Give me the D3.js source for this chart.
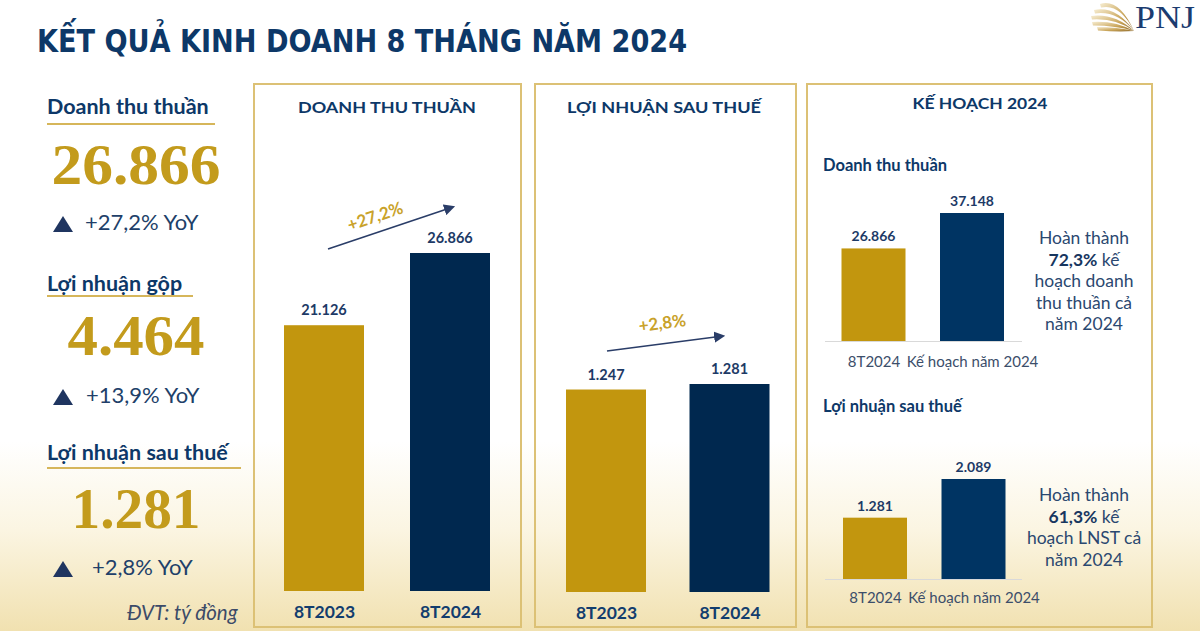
<!DOCTYPE html>
<html>
<head>
<meta charset="utf-8">
<script src="https://cdn.jsdelivr.net/npm/d3@7/dist/d3.min.js"></script>
<style>
  html, body { margin: 0; padding: 0; background: #fff; }
  svg { display: block; }
</style>
</head>
<body>
<svg id="chart" width="1200" height="631"></svg>
<script>
// ---------- DATA ----------
const titleText = "KẾT QUẢ KINH DOANH 8 THÁNG NĂM 2024";
const kpiLabels = ["Doanh thu thuần", "Lợi nhuận gộp", "Lợi nhuận sau thuế"];
const kpiValues = ["26.866", "4.464", "1.281"];
const kpiGrowth = ["+27,2% YoY", "+13,9% YoY", "+2,8% YoY"];
const unitNote = "ĐVT: tý đồng";

const yoyCategories = ["8T2023", "8T2024"];
const revenueValues = [21126, 26866];
const profitValues = [1247, 1281];
const revenueGrowth = "+27,2%";
const profitGrowth = "+2,8%";

const planCategories = ["8T2024", "Kế hoạch năm 2024"];
const planRevenueValues = [26866, 37148];
const planProfitValues = [1281, 2089];
const planRevenueNote = [["Hoàn thành"], ["72,3%", " kế"], ["hoạch doanh"], ["thu thuần cả"], ["năm 2024"]];
const planProfitNote = [["Hoàn thành"], ["61,3%", " kế"], ["hoạch LNST cả"], ["năm 2024"]];

const panelTitles = ["DOANH THU THUẦN", "LỢI NHUẬN SAU THUẾ", "KẾ HOẠCH 2024"];
const planSubTitles = ["Doanh thu thuần", "Lợi nhuận sau thuế"];

// ---------- STYLE ----------
const NAVY = "#0d3868";
const BAR_NAVY = "#00284f";
const BAR_NAVY2 = "#003463";
const GOLD = "#c2960e";
const GOLD_TXT = "#c39b1c";
const BORDER = "#dcc175";
const TEXT_BLUE = "#2b4870";
const fmt = v => d3.format(",")(v).replace(/,/g, ".");

const svg = d3.select("#chart");
const defs = svg.append("defs");

// background gradient
const bg = defs.append("linearGradient").attr("id", "bg").attr("x1", 0).attr("y1", 0).attr("x2", 0).attr("y2", 1);
bg.append("stop").attr("offset", "0%").attr("stop-color", "#ffffff");
bg.append("stop").attr("offset", "70%").attr("stop-color", "#ffffff");
bg.append("stop").attr("offset", "84%").attr("stop-color", "#fbf5e2");
bg.append("stop").attr("offset", "100%").attr("stop-color", "#f1e1b0");
svg.append("rect").attr("width", 1200).attr("height", 631).attr("fill", "url(#bg)");

// arrow marker
defs.append("marker").attr("id", "arr").attr("viewBox", "0 0 10 10")
  .attr("refX", 8).attr("refY", 5).attr("markerWidth", 7).attr("markerHeight", 7)
  .attr("orient", "auto")
  .append("path").attr("d", "M0,0 L10,5 L0,10 z").attr("fill", "#2a3d68");

// gold logo gradient
const lg = defs.append("linearGradient").attr("id", "lg").attr("x1", 0).attr("y1", 0).attr("x2", 1).attr("y2", 1);
lg.append("stop").attr("offset", "0%").attr("stop-color", "#f6ecd0");
lg.append("stop").attr("offset", "55%").attr("stop-color", "#c9a55a");
lg.append("stop").attr("offset", "100%").attr("stop-color", "#8a6526");

// ---------- TITLE ----------
svg.append("text").attr("x", 37).attr("y", 52)
  .attr("font-family", "'Liberation Sans Narrow','DejaVu Sans Condensed',Lato,sans-serif")
  .attr("font-weight", "bold").attr("font-size", 32).attr("fill", NAVY)
  .attr("textLength", 650).attr("lengthAdjust", "spacingAndGlyphs")
  .text(titleText);

// ---------- LOGO ----------
const logo = svg.append("g");
const strands = [[1100, 4], [1094, 10], [1091, 16], [1092, 22], [1097, 27]];
strands.forEach(([sx, sy], i) => {
  const ex = 1134, ey = 31;
  const cx = (sx + ex) / 2 + 2, cy = sy - 6 + i * 1.5;
  logo.append("path")
    .attr("d", `M${sx},${sy} Q${cx},${cy} ${ex},${ey} Q${cx + 1},${cy + 5} ${sx + 1},${sy + 3.5} Z`)
    .attr("fill", "url(#lg)");
});
svg.append("text").attr("x", 1135).attr("y", 28)
  .attr("font-family", "'Liberation Serif',serif").attr("font-size", 31)
  .attr("fill", "#1b3c70").attr("textLength", 60).attr("lengthAdjust", "spacingAndGlyphs")
  .text("PNJ");

// ---------- LEFT KPI COLUMN ----------
const kpiLayout = [
  { labelY: 114, lineY: 124, lineX2: 215, valueY: 184, valueW: 169, growY: 230, growX: 85 },
  { labelY: 291, lineY: 296, lineX2: 193, valueY: 355, valueW: 137, growY: 403, growX: 86 },
  { labelY: 460, lineY: 468, lineX2: 241, valueY: 528, valueW: 129, growY: 575, growX: 92 }
];
kpiLabels.forEach((lab, i) => {
  const L = kpiLayout[i];
  svg.append("text").attr("x", 47).attr("y", L.labelY)
    .attr("font-family", "Lato,'Open Sans',sans-serif").attr("font-weight", "bold")
    .attr("font-size", 21.5).attr("fill", NAVY).text(lab);
  svg.append("line").attr("x1", 47).attr("x2", L.lineX2).attr("y1", L.lineY).attr("y2", L.lineY)
    .attr("stroke", "#d6b65a").attr("stroke-width", 2);
  svg.append("text").attr("x", 136).attr("y", L.valueY).attr("text-anchor", "middle")
    .attr("font-family", "'Liberation Serif',serif").attr("font-weight", "bold")
    .attr("font-size", 56).attr("fill", GOLD_TXT)
    .attr("textLength", L.valueW).attr("lengthAdjust", "spacingAndGlyphs")
    .text(kpiValues[i]);
  const ty = L.growY;
  svg.append("path").attr("d", `M53,${ty + 2} L63,${ty - 14} L73,${ty + 2} Z`).attr("fill", "#1f3560");
  svg.append("text").attr("x", L.growX).attr("y", ty)
    .attr("font-family", "Lato,'Open Sans',sans-serif").attr("font-size", 22)
    .attr("fill", "#213f69").text(kpiGrowth[i]);
});
svg.append("text").attr("x", 127).attr("y", 620)
  .attr("font-family", "Lato,'Open Sans',sans-serif").attr("font-style", "italic")
  .attr("font-size", 20.5).attr("fill", "#3c4b68").text(unitNote);

// ---------- PANELS ----------
const panels = [
  { x: 254, y: 84, w: 267, h: 543 },
  { x: 535, y: 84, w: 261, h: 543 },
  { x: 807, y: 84, w: 345, h: 543 }
];
panels.forEach(p => {
  svg.append("rect").attr("x", p.x).attr("y", p.y).attr("width", p.w).attr("height", p.h)
    .attr("fill", "none").attr("stroke", BORDER).attr("stroke-width", 2);
});
const headerPos = [{ cx: 387, y: 113, w: 178 }, { cx: 664, y: 113, w: 194 }, { cx: 980, y: 109, w: 135 }];
panelTitles.forEach((t, i) => {
  svg.append("text").attr("x", headerPos[i].cx).attr("y", headerPos[i].y).attr("text-anchor", "middle")
    .attr("font-family", "Lato,'Open Sans',sans-serif").attr("font-weight", "bold")
    .attr("font-size", 16).attr("fill", NAVY)
    .attr("textLength", headerPos[i].w).attr("lengthAdjust", "spacingAndGlyphs").text(t);
});

// YoY bar chart helper
function yoyChart(values, xRange, yBase, yTop, catY) {
  const x = d3.scalePoint().domain(yoyCategories).range(xRange);
  const y = d3.scaleLinear().domain([0, d3.max(values)]).range([yBase, yTop]);
  const bw = 80;
  const g = svg.append("g");
  g.selectAll("rect").data(values).join("rect")
    .attr("x", (d, i) => x(yoyCategories[i]) - bw / 2)
    .attr("y", d => y(d)).attr("width", bw).attr("height", d => y(0) - y(d))
    .attr("fill", (d, i) => i === 0 ? GOLD : BAR_NAVY);
  g.selectAll("text.v").data(values).join("text").attr("class", "v")
    .attr("x", (d, i) => x(yoyCategories[i])).attr("y", d => y(d) - 10)
    .attr("text-anchor", "middle").attr("font-family", "Lato,'Open Sans',sans-serif")
    .attr("font-weight", "bold").attr("font-size", 14.5).attr("fill", "#1d3a66")
    .text(d => fmt(d));
  const xAxis = d3.axisBottom(x).tickSize(0).tickPadding(0);
  const ax = svg.append("g").attr("transform", `translate(0,${catY})`).call(xAxis);
  ax.select(".domain").remove();
  ax.selectAll("text").attr("dy", 0).attr("font-family", "Lato,'Open Sans',sans-serif")
    .attr("font-weight", "bold").attr("font-size", 17.5).attr("fill", "#123d6e");
  return { x, y };
}
yoyChart(revenueValues, [324, 450], 591, 253, 618);
yoyChart(profitValues, [606, 729.5], 592, 384, 619);

// growth arrows
function growthArrow(x1, y1, x2, y2, label, lx, ly) {
  svg.append("line").attr("x1", x1).attr("y1", y1).attr("x2", x2).attr("y2", y2)
    .attr("stroke", "#2a3d68").attr("stroke-width", 1.6).attr("marker-end", "url(#arr)");
  const ang = Math.atan2(y2 - y1, x2 - x1) * 180 / Math.PI;
  svg.append("text").attr("transform", `translate(${lx},${ly}) rotate(${ang})`)
    .attr("text-anchor", "middle").attr("font-family", "Lato,'Open Sans',sans-serif")
    .attr("font-weight", "bold").attr("font-size", 17).attr("fill", "#c9a22a").text(label);
}
growthArrow(328, 249, 453, 207, revenueGrowth, 377, 222);
growthArrow(607, 351, 723, 336, profitGrowth, 663, 329);

// plan charts
function planChart(values, subtitle, subY, xRange, yBase, yTop, catY, note, noteY) {
  svg.append("text").attr("x", 823).attr("y", subY)
    .attr("font-family", "Lato,'Open Sans',sans-serif").attr("font-weight", "bold")
    .attr("font-size", 16.5).attr("fill", NAVY).text(subtitle);
  const x = d3.scalePoint().domain(planCategories).range(xRange);
  const y = d3.scaleLinear().domain([0, d3.max(values)]).range([yBase, yTop]);
  const bw = 64;
  svg.append("line").attr("x1", 825).attr("x2", 1022).attr("y1", yBase + 0.5).attr("y2", yBase + 0.5)
    .attr("stroke", "#d9d9d9").attr("stroke-width", 1);
  const g = svg.append("g");
  g.selectAll("rect").data(values).join("rect")
    .attr("x", (d, i) => x(planCategories[i]) - bw / 2)
    .attr("y", d => y(d)).attr("width", bw).attr("height", d => y(0) - y(d))
    .attr("fill", (d, i) => i === 0 ? GOLD : BAR_NAVY2);
  g.selectAll("text.v").data(values).join("text").attr("class", "v")
    .attr("x", (d, i) => x(planCategories[i])).attr("y", d => y(d) - 7)
    .attr("text-anchor", "middle").attr("font-family", "Lato,'Open Sans',sans-serif")
    .attr("font-weight", "bold").attr("font-size", 14).attr("fill", "#1d3a66")
    .text(d => fmt(d));
  const ax = svg.append("g").attr("transform", `translate(0,${catY})`)
    .call(d3.axisBottom(x).tickSize(0).tickPadding(0));
  ax.select(".domain").remove();
  ax.selectAll("text").attr("dy", 0).attr("font-family", "Lato,'Open Sans',sans-serif")
    .attr("font-size", 15).attr("fill", "#3c4e6a");
  note.forEach((parts, i) => {
    const t = svg.append("text").attr("x", 1084).attr("y", noteY + i * 21.5)
      .attr("text-anchor", "middle").attr("font-family", "Lato,'Open Sans',sans-serif")
      .attr("font-size", 17.5).attr("fill", TEXT_BLUE);
    if (parts.length === 2) {
      t.append("tspan").attr("font-weight", "bold").attr("fill", "#17365f").text(parts[0]);
      t.append("tspan").text(parts[1]);
    } else {
      t.text(parts[0]);
    }
  });
}
planChart(planRevenueValues, planSubTitles[0], 171, [873.5, 972], 341, 213, 367, planRevenueNote, 244);
planChart(planProfitValues, planSubTitles[1], 412, [875, 973.5], 579, 479, 603, planProfitNote, 501);
</script>
</body>
</html>
